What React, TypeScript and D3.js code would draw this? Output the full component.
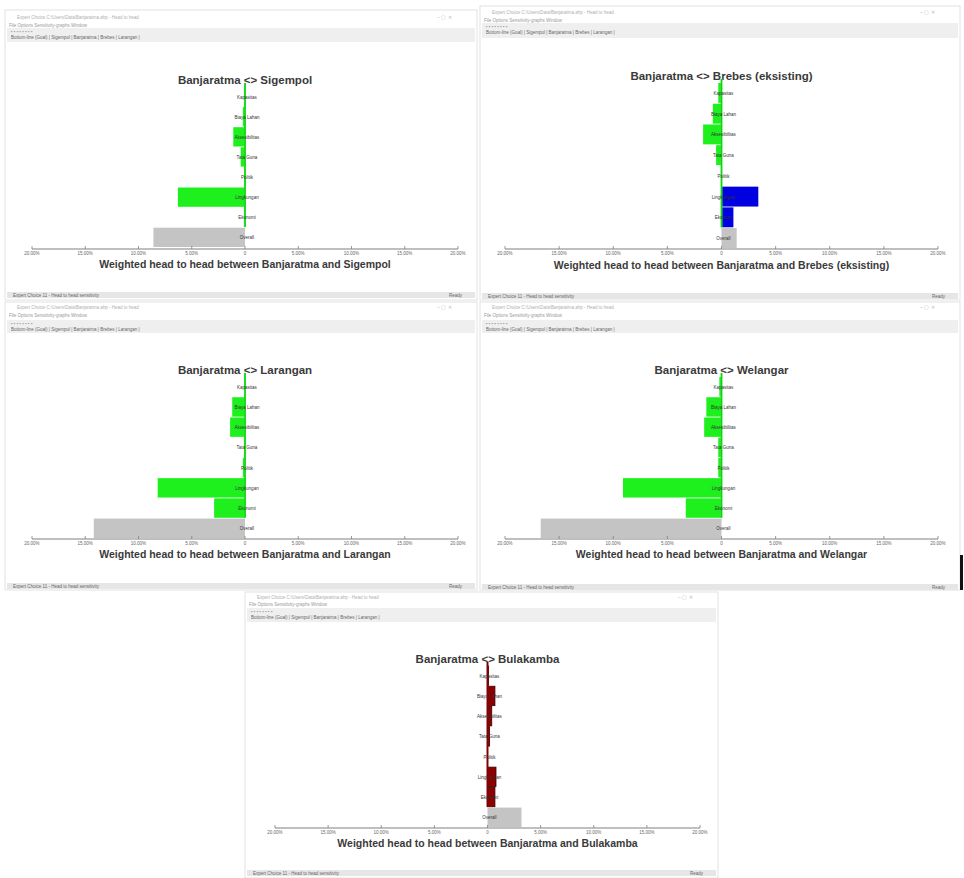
import React from "react";
import * as d3 from "d3";

const criteria = ["Kapasitas", "Biaya Lahan", "Aksesibilitas", "Tata Guna", "Politik", "Lingkungan", "Ekonomi", "Overall"];
const tickValues = [-20, -15, -10, -5, 0, 5, 10, 15, 20];
const tickLabels = ["20.00%", "15.00%", "10.00%", "5.00%", "0", "5.00%", "10.00%", "15.00%", "20.00%"];

const titles = [
  "Banjaratma <> Sigempol",
  "Banjaratma <> Brebes (eksisting)",
  "Banjaratma <> Larangan",
  "Banjaratma <> Welangar",
  "Banjaratma <> Bulakamba",
];
const axisTitles = [
  "Weighted head to head between Banjaratma and Sigempol",
  "Weighted head to head between Banjaratma and Brebes (eksisting)",
  "Weighted head to head between Banjaratma and Larangan",
  "Weighted head to head between Banjaratma and Welangar",
  "Weighted head to head between Banjaratma and Bulakamba",
];

const sigempol = [-0.1, -0.2, -1.1, -0.4, 0, -6.3, -0.1, -8.6];
const brebes = [-0.3, -0.8, -1.7, -0.5, 0, 3.4, 1.1, 1.4];
const larangan = [0, -1.2, -1.4, -0.1, -0.2, -8.2, -2.9, -14.2];
const welangar = [-0.2, -1.4, -1.6, -0.3, -0.3, -9.1, -3.3, -16.7];
const bulakamba = [0.1, 0.7, 0.4, 0.2, 0, 0.8, 0.7, 3.2];
const seriesList = [sigempol, brebes, larangan, welangar, bulakamba];

type Layout = {
  wx: number; wy: number; ww: number; wh: number;
  titleBarY: number; menuY: number; tbTop: number; tbBot: number; statusY: number;
  axisL: number; axisR: number; axisY: number; bandTop: number; bandBot: number;
  titleY: number; axisTitleY: number;
  pos: string; neg: string; stroke: string;
};

const layouts: Layout[] = [
  { wx: 5, wy: 10, ww: 472, wh: 290, titleBarY: 17, menuY: 25, tbTop: 28, tbBot: 42, statusY: 292,
    axisL: 32, axisR: 458, axisY: 249, bandTop: 87, bandBot: 247, titleY: 84, axisTitleY: 268,
    pos: "#00ee00", neg: "#1ef01e", stroke: "none" },
  { wx: 480, wy: 6, ww: 480, wh: 294, titleBarY: 12, menuY: 20, tbTop: 23, tbBot: 38, statusY: 293,
    axisL: 505, axisR: 938, axisY: 249, bandTop: 83, bandBot: 248, titleY: 80, axisTitleY: 269,
    pos: "#0000e0", neg: "#1ef01e", stroke: "none" },
  { wx: 5, wy: 302, ww: 472, wh: 288, titleBarY: 307, menuY: 315, tbTop: 320, tbBot: 333, statusY: 583,
    axisL: 32, axisR: 458, axisY: 539, bandTop: 377, bandBot: 538, titleY: 374, axisTitleY: 558,
    pos: "#00ee00", neg: "#1ef01e", stroke: "none" },
  { wx: 480, wy: 302, ww: 480, wh: 288, titleBarY: 307, menuY: 315, tbTop: 320, tbBot: 333, statusY: 584,
    axisL: 505, axisR: 938, axisY: 539, bandTop: 377, bandBot: 538, titleY: 374, axisTitleY: 558,
    pos: "#00ee00", neg: "#1ef01e", stroke: "none" },
  { wx: 245, wy: 592, ww: 473, wh: 286, titleBarY: 597, menuY: 604, tbTop: 608, tbBot: 622, statusY: 870,
    axisL: 275, axisR: 700, axisY: 828, bandTop: 666, bandBot: 827, titleY: 663, axisTitleY: 847,
    pos: "#8b0000", neg: "#8b0000", stroke: "#3a0000" },
];

function Panel({ i }: { i: number }) {
  const L = layouts[i];
  const data = seriesList[i];
  const x = d3.scaleLinear().domain([-20, 20]).range([L.axisL, L.axisR]);
  const y = d3.scaleBand<string>().domain(criteria).range([L.bandTop, L.bandBot]).paddingInner(0.04);
  const x0 = x(0);
  const lastColored = criteria[criteria.length - 2];
  const zeroColor = i === 4 ? "#8b0000" : "#1ef01e";
  return (
    <g>
      {/* window frame */}
      <rect x={L.wx} y={L.wy} width={L.ww} height={L.wh} fill="#ffffff" stroke="#e2e2e2" />
      <text x={L.wx + 12} y={L.titleBarY + 2} fontSize={4.5} fill="#b0b0b0" fontFamily="Arial">
        Expert Choice C:\Users\Data\Banjaratma.ahp - Head to head
      </text>
      <text x={L.wx + L.ww - 40} y={L.titleBarY + 2} fontSize={5} fill="#bbbbbb" fontFamily="Arial">–   ▢   ✕</text>
      <text x={L.wx + 4} y={L.menuY + 2} fontSize={4.5} fill="#999999" fontFamily="Arial">File   Options   Sensitivity-graphs   Window</text>
      <rect x={L.wx + 2} y={L.tbTop} width={L.ww - 4} height={L.tbBot - L.tbTop} fill="#efefef" />
      <text x={L.wx + 6} y={L.tbTop + 5} fontSize={4.5} fill="#999999" fontFamily="Arial">▪ ▪ ▪ ▪ ▪ ▪ ▪ ▪</text>
      <text x={L.wx + 6} y={L.tbTop + 11} fontSize={4.5} fill="#666666" fontFamily="Arial">Bottom-line (Goal) | Sigempol | Banjaratma | Brebes | Larangan |</text>
      <rect x={L.wx + 2} y={L.statusY} width={L.ww - 4} height={6} fill="#e6e6e6" />
      <text x={L.wx + 8} y={L.statusY + 4.5} fontSize={4.5} fill="#666666" fontFamily="Arial">Expert Choice 11 - Head to head sensitivity</text>
      <text x={L.wx + L.ww - 28} y={L.statusY + 4.5} fontSize={4.5} fill="#666666" fontFamily="Arial">Ready</text>

      {/* chart title */}
      <text x={x0} y={L.titleY} textAnchor="middle" fontSize={11.5} fontWeight="bold" fill="#3a3a3a" fontFamily="Arial, Liberation Sans">
        {titles[i]}
      </text>

      {/* bars */}
      {data.map((v, k) => {
        const c = criteria[k];
        const isTotal = k === criteria.length - 1;
        const fill = isTotal ? "#c4c4c4" : v >= 0 ? L.pos : L.neg;
        const xa = Math.min(x(0), x(v));
        const w = Math.abs(x(v) - x(0));
        return (
          <rect key={c} x={xa} y={y(c)!} width={Math.max(w, 0)} height={y.bandwidth()} fill={fill}
            stroke={isTotal ? "none" : L.stroke} strokeWidth={0.8} />
        );
      })}

      {/* zero line */}
      <line x1={x0} x2={x0} y1={L.bandTop - 4} y2={y(lastColored)! + y.bandwidth()} stroke={zeroColor} strokeWidth={2} />
      <line x1={x0} x2={x0} y1={L.bandTop - 4} y2={y(lastColored)! + y.bandwidth()} stroke="#222" strokeWidth={0.4} opacity={0.5} />

      {/* row labels */}
      {criteria.map((c) => (
        <text key={c} x={x0 + 2} y={y(c)! + y.bandwidth() / 2 + 2} textAnchor="middle" fontSize={4.5} fill="#333333" fontFamily="Arial">
          {c}
        </text>
      ))}

      {/* axis */}
      <line x1={L.axisL} x2={L.axisR} y1={L.axisY} y2={L.axisY} stroke="#808080" strokeWidth={1.2} />
      {tickValues.map((t, k) => (
        <g key={k}>
          <line x1={x(t)} x2={x(t)} y1={L.axisY - 3} y2={L.axisY} stroke="#808080" strokeWidth={0.8} />
          <text x={x(t)} y={L.axisY + 6} textAnchor="middle" fontSize={4.5} fill="#666666" fontFamily="Arial">
            {tickLabels[k]}
          </text>
        </g>
      ))}
      <text x={(L.axisL + L.axisR) / 2} y={L.axisTitleY} textAnchor="middle" fontSize={10.5} fontWeight="bold" fill="#3a3a3a" fontFamily="Arial, Liberation Sans">
        {axisTitles[i]}
      </text>
    </g>
  );
}

export default function App() {
  return (
    <svg width={964} height={878} style={{ position: "absolute", left: 0, top: 0, background: "#ffffff" }}>
      <rect x={0} y={0} width={964} height={878} fill="#ffffff" />
      {layouts.map((_, i) => (
        <Panel key={i} i={i} />
      ))}
      <rect x={960} y={555} width={3} height={35} fill="#111111" />
    </svg>
  );
}
